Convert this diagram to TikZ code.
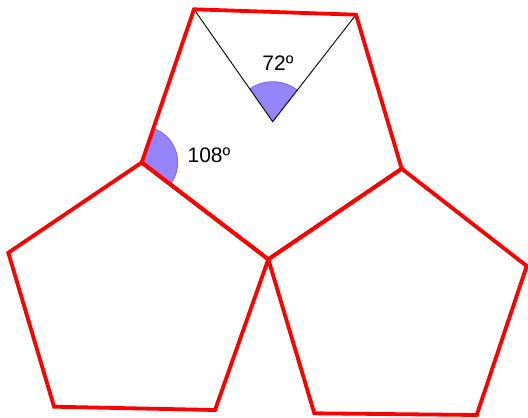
\documentclass[tikz,border=0pt]{standalone}
\usepackage{fontspec}
\setmainfont{Liberation Sans}
\usetikzlibrary{angles}
\definecolor{anglefill}{RGB}{150,132,250}
\definecolor{angleedge}{RGB}{110,100,255}
\begin{document}
\begin{tikzpicture}[x=1pt,y=-1pt,
  pent/.style={draw=red,line width=3.8pt,line join=miter},
  thin/.style={draw=black,line width=0.9pt},
  sector/.style={fill=anglefill,draw=angleedge,line width=0.8pt},
  lbl/.style={font=\fontsize{21}{24}\selectfont,inner sep=0pt}]
\useasboundingbox (0,0) rectangle (528,418);
% top pentagon
\coordinate (A) at (194,9.3);
\coordinate (B) at (356,14.7);
\coordinate (R) at (401.7,168.7);
\coordinate (M) at (268.3,259.3);
\coordinate (L) at (141.7,162.5);
\coordinate (C) at (272.7,121.7);
% left pentagon
\coordinate (L3) at (215,410);
\coordinate (L4) at (54,406.7);
\coordinate (L5) at (8.3,252.7);
% right pentagon
\coordinate (R3) at (526.7,266);
\coordinate (R4) at (476.7,415);
\coordinate (R5) at (314.3,413.3);
% angle sectors
\pic[sector,angle radius=40pt] {angle = B--C--A};
\pic[sector,angle radius=36pt] {angle = M--L--A};
% inner lines
\draw[thin] (A) -- (C) -- (B);
% pentagons
\draw[pent] (A) -- (B) -- (R) -- (M) -- (L) -- cycle;
\draw[pent] (L) -- (M) -- (L3) -- (L4) -- (L5) -- cycle;
\draw[pent] (M) -- (R) -- (R3) -- (R4) -- (R5) -- cycle;
% labels
\node[lbl] (t72) at (278,63) {72º};
\node[lbl] (t108) at (209,155.5) {108º};
\end{tikzpicture}
\end{document}
